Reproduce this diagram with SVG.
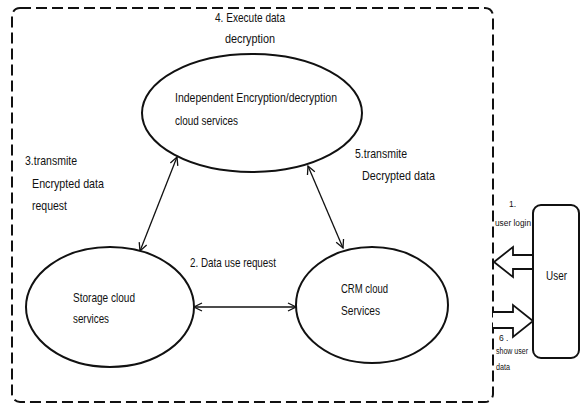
<svg xmlns="http://www.w3.org/2000/svg" width="581" height="406" viewBox="0 0 581 406">
<defs>
<style>
.t{font-family:"Liberation Sans","DejaVu Sans",sans-serif;font-size:13px;fill:#111}
.s{font-family:"Liberation Sans","DejaVu Sans",sans-serif;font-size:8.5px;fill:#111}
.node{fill:#fff;stroke:#111;stroke-width:2}
.con{fill:none;stroke:#111;stroke-width:1.3;marker-start:url(#v);marker-end:url(#v)}
.big{fill:#fff;stroke:#111;stroke-width:1.8;stroke-linejoin:miter}
</style>
<marker id="v" viewBox="0 0 10 10" refX="9" refY="5" markerWidth="10" markerHeight="10" markerUnits="userSpaceOnUse" orient="auto-start-reverse">
<path d="M1,1 L9,5 L1,9" fill="none" stroke="#111" stroke-width="1.3"/>
</marker>
</defs>
<rect width="581" height="406" fill="#fff"/>
<g id="boundary">
<rect x="12" y="8" width="481" height="394" rx="8" fill="none" stroke="#111" stroke-width="2" stroke-dasharray="11,5"/>
</g>
<g id="connectors">
<line class="con" x1="177" y1="157" x2="140" y2="251"/>
<line class="con" x1="308" y1="166" x2="343" y2="248"/>
<line class="con" x1="194" y1="307" x2="296" y2="307"/>
<path class="big" d="M533,255 L513,255 L513,247 L494,262 L513,277 L513,269 L533,269"/>
<path class="big" d="M493,312 L513,312 L513,305 L533,321 L513,337 L513,328 L493,328"/>
</g>
<g id="labels">
<text class="t" x="215" y="22" textLength="70" lengthAdjust="spacingAndGlyphs">4. Execute data</text>
<text class="t" x="225" y="43" textLength="50" lengthAdjust="spacingAndGlyphs">decryption</text>
<text class="t" x="25" y="165" textLength="52" lengthAdjust="spacingAndGlyphs">3.transmite</text>
<text class="t" x="32" y="188" textLength="72" lengthAdjust="spacingAndGlyphs">Encrypted data</text>
<text class="t" x="32" y="210" textLength="35" lengthAdjust="spacingAndGlyphs">request</text>
<text class="t" x="190" y="267" textLength="86" lengthAdjust="spacingAndGlyphs">2. Data use request</text>
<text class="t" x="355" y="158" textLength="52" lengthAdjust="spacingAndGlyphs">5.transmite</text>
<text class="t" x="362" y="180" textLength="73" lengthAdjust="spacingAndGlyphs">Decrypted data</text>
<text class="s" x="509" y="207">1.</text>
<text class="s" x="495" y="226" textLength="36" lengthAdjust="spacingAndGlyphs">user login</text>
<text class="s" x="499" y="341">6 .</text>
<text class="s" x="496" y="354" textLength="32" lengthAdjust="spacingAndGlyphs">show user</text>
<text class="s" x="496" y="370" textLength="14" lengthAdjust="spacingAndGlyphs">data</text>
</g>
<g id="encdec">
<ellipse class="node" cx="252" cy="113" rx="110" ry="59"/>
<text class="t" x="175" y="102" textLength="162" lengthAdjust="spacingAndGlyphs">Independent Encryption/decryption</text>
<text class="t" x="175" y="125" textLength="63" lengthAdjust="spacingAndGlyphs">cloud services</text>
</g>
<g id="storage">
<ellipse class="node" cx="110" cy="307" rx="84" ry="60"/>
<text class="t" x="73" y="302" textLength="62" lengthAdjust="spacingAndGlyphs">Storage cloud</text>
<text class="t" x="73" y="323" textLength="36" lengthAdjust="spacingAndGlyphs">services</text>
</g>
<g id="crm">
<ellipse class="node" cx="372" cy="305" rx="76" ry="58"/>
<text class="t" x="341" y="293" textLength="47" lengthAdjust="spacingAndGlyphs">CRM cloud</text>
<text class="t" x="341" y="315" textLength="39" lengthAdjust="spacingAndGlyphs">Services</text>
</g>
<g id="user">
<rect x="533" y="205" width="46" height="153" rx="8" fill="#fff" stroke="#111" stroke-width="2"/>
<text class="t" x="546" y="280" textLength="21" lengthAdjust="spacingAndGlyphs">User</text>
</g>
</svg>
